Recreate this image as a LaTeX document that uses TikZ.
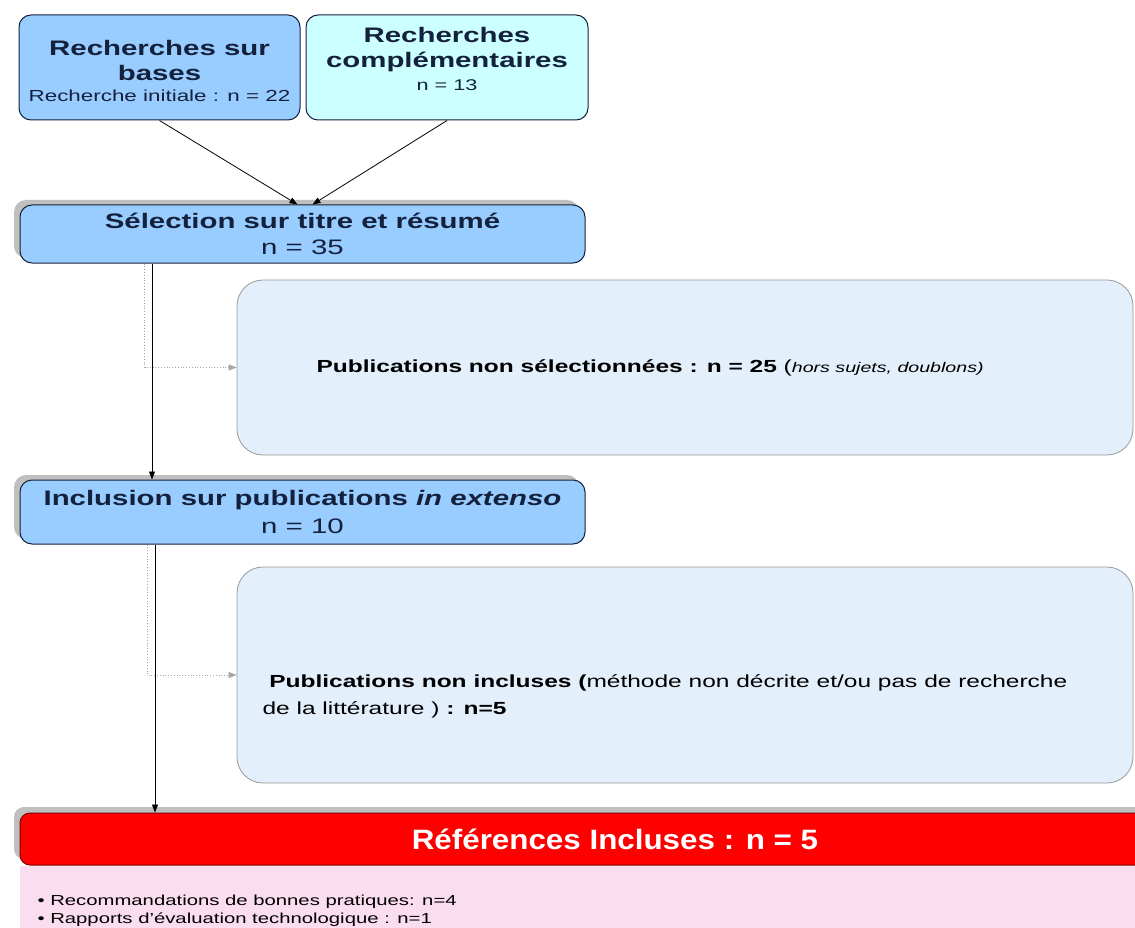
\documentclass[tikz,border=0pt]{standalone}
\usepackage{fontspec}
\setmainfont{Liberation Sans}
\newfontfamily\widefont[FakeStretch=1.4]{Liberation Sans}
\newfontfamily\midfont[FakeStretch=1.12]{Liberation Sans}
\usetikzlibrary{positioning}
\usetikzlibrary{shadows}
\usetikzlibrary{arrows.meta}

\definecolor{boxblue}{HTML}{99CCFF}
\definecolor{boxcyan}{HTML}{CCFFFF}
\definecolor{boxpale}{HTML}{E3EFFB}
\definecolor{navy}{HTML}{14213D}
\definecolor{pinkbg}{HTML}{FBDDF0}
\definecolor{redbar}{HTML}{FF0000}

\begin{document}
\begin{tikzpicture}[
    x=1pt, y=-1pt,
    bluebox/.style={draw=navy, line width=1pt, rounded corners=12pt, fill=boxblue, text=navy, align=center, inner sep=0pt},
    shadowbox/.style={bluebox, drop shadow={shadow xshift=-6pt, shadow yshift=5pt, fill=gray!55, opacity=0.9}},
    palebox/.style={draw=gray!80, line width=0.8pt, rounded corners=26pt, fill=boxpale, inner sep=0pt},
    flow/.style={draw=black, line width=0.8pt, -{Triangle[length=8pt, width=6pt]}},
    skip/.style={draw=gray!70, line width=0.8pt, dotted, -{Triangle[length=8pt, width=6pt, fill=gray!70]}},
    titlefont/.style={font=\widefont\fontsize{21}{25}\selectfont\bfseries}
]
\clip (0,0) rectangle (1135,928);
\fill[white] (0,0) rectangle (1135,928);

% Define the search boxes
\node[bluebox, minimum width=281, minimum height=105] (A) at (159.5,67.5) {};
\node[bluebox, fill=boxcyan, minimum width=282, minimum height=105] (B) at (447,67.5) {};
\node[titlefont, text=navy, align=center] at (159.5,60) {Recherches sur\\bases};
\node[font=\widefont\fontsize{16}{18}\selectfont, text=navy] at (159.5,96) {Recherche initiale : n = 22};
\node[titlefont, text=navy, align=center] at (447,50) {Recherches\\complémentaires};
\node[font=\widefont\fontsize{15.5}{18}\selectfont, text=navy] at (447,85) {n = 13};

% Define the screening steps
\node[shadowbox, minimum width=565, minimum height=58, font=\widefont\fontsize{21}{26}\selectfont] (C) at (302.5,234)
    {{\bfseries Sélection sur titre et résumé}\\n = 35};
\node[palebox, minimum width=896, minimum height=175] (D) at (685,367.5) {};
\node[anchor=west, font=\widefont\fontsize{17.5}{21}\selectfont] at (313,367.5)
    {{\bfseries Publications non sélectionnées : n = 25} ({\fontsize{14}{16}\selectfont\itshape hors sujets, doublons)}};

\node[shadowbox, minimum width=565, minimum height=64, font=\widefont\fontsize{21}{28}\selectfont] (E) at (302.5,512)
    {{\bfseries Inclusion sur publications \itshape in extenso}\\n = 10};
\node[palebox, minimum width=896, minimum height=216] (F) at (685,675) {};
\node[anchor=west, align=left, font=\widefont\fontsize{17.5}{27}\selectfont] at (259,696.5)
    {\ {\bfseries Publications non incluses (}méthode non décrite et/ou pas de recherche\\de la littérature ) {\bfseries : n=5}};

% Define the result boxes
\node[draw=red!50!black, line width=1pt, rounded corners=10pt, fill=redbar, minimum width=1190, minimum height=52, inner sep=0pt,
    drop shadow={shadow xshift=-6pt, shadow yshift=6pt, fill=gray!55, opacity=0.9}] (R) at (615,839) {};
\node[font=\midfont\fontsize{28}{30}\selectfont\bfseries, text=white] at (615,839) {Références Incluses : n = 5};
\node[fill=pinkbg, minimum width=1190, minimum height=80, inner sep=0pt, below=0pt of R] (P) {};
\node[anchor=west, align=left, font=\widefont\fontsize{14.5}{18}\selectfont] at (34,911)
    {• Recommandations de bonnes pratiques: n=4\\• Rapports d’évaluation technologique : n=1};

% Draw connectors
\draw[flow] (A.south) -- ([xshift=-5pt]C.north);
\draw[flow] (B.south) -- ([xshift=10pt]C.north);
\draw[skip] ([xshift=-158pt]C.south) |- (D.west);
\draw[flow] ([xshift=-150.5pt]C.south) -- ([xshift=-150.5pt]E.north);
\draw[skip] ([xshift=-155pt]E.south) |- (F.west);
\draw[flow] ([xshift=-147.5pt]E.south) -- ([xshift=-460pt]R.north);

\end{tikzpicture}
\end{document}
